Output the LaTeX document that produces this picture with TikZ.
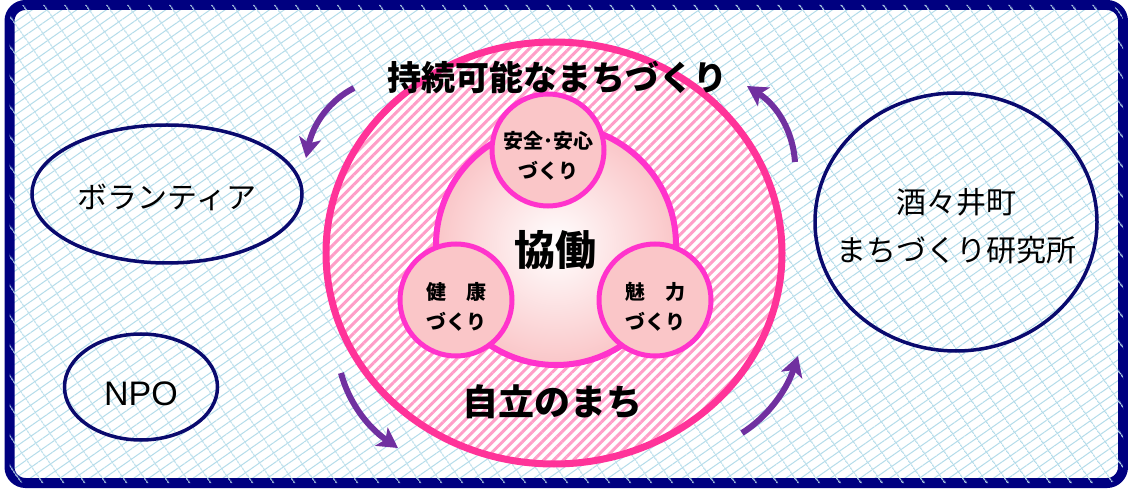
\documentclass[tikz,border=0pt]{standalone}
\usepackage{fontspec}
\setmainfont{Noto Sans CJK JP}
\newfontfamily\latinfont{Liberation Sans}
\usetikzlibrary{patterns.meta,arrows.meta,shapes.geometric}
\definecolor{navy}{RGB}{0,0,128}
\definecolor{ovalblue}{RGB}{10,10,110}
\definecolor{bgblue}{RGB}{180,220,234}
\definecolor{hotpink}{RGB}{255,51,153}
\definecolor{stripepink}{RGB}{255,158,200}
\definecolor{magentaline}{RGB}{255,51,204}
\definecolor{softpink}{RGB}{250,198,200}
\definecolor{purp}{RGB}{112,48,160}
\tikzset{
  frame/.style={draw=navy, line width=10, rounded corners=16,
    preaction={fill=white},
    pattern={Lines[angle=35,distance=8.5pt,line width=1pt]}, pattern color=bgblue,
    postaction={pattern={Lines[angle=125,distance=17pt,line width=1pt]}, pattern color=bgblue}},
  oval/.style={ellipse, draw=ovalblue, line width=3.5, inner sep=0},
  bigring/.style={ellipse, draw=hotpink, line width=7, inner sep=0,
    preaction={fill=white},
    pattern={Lines[angle=45,distance=7pt,line width=3pt]}, pattern color=stripepink},
  core/.style={circle, draw=magentaline, line width=6, inner sep=0,
    inner color=white, outer color=softpink},
  petal/.style={circle, draw=magentaline, line width=5, fill=softpink, inner sep=0,
    minimum size=112},
  petaltext/.style={align=center, font=\fontsize{20}{30}\selectfont\bfseries},
  arr/.style={draw=purp, line width=6, -{Stealth[length=20pt,width=22pt,inset=5pt]}},
  title/.style={font=\fontsize{34}{40}\selectfont\bfseries},
}
\begin{document}
\begin{tikzpicture}[x=1pt,y=-1pt]
\useasboundingbox (0,0) rectangle (1128,489);
\draw[frame] (9.5,5) rectangle (1123,483);

% outer big ring
\node[bigring, minimum width=456, minimum height=422] (ring) at (554,253) {};
% core
\node[core, minimum size=240] (core) at (556,245) {};
% petals
\node[petal] (safe) at (548,150) {};
\node[petal] (health) at (456,300) {};
\node[petal] (charm) at (655,300) {};
\node[petaltext] (safet) at ([yshift=-6]safe.center) {安全･安心\\づくり};
\node[petaltext] (healtht) at ([yshift=-7]health.center) {健\hspace{1em}康\\づくり};
\node[petaltext] (charmt) at ([yshift=-7]charm.center) {魅\hspace{1em}力\\づくり};

% texts in ring
\node[title] (sus) at (557,77) {持続可能なまちづくり};
\node[font=\fontsize{41}{46}\selectfont\bfseries] (kyodo) at (555,250) {協働};
\node[font=\fontsize{36}{40}\selectfont\bfseries] (jiritsu) at (552,402) {自立のまち};

% outer actors
\node[oval, minimum width=270, minimum height=138] (vol) at (167,194) {};
\node[font=\fontsize{30}{34}\selectfont] (volt) at ([yshift=-3]vol.center) {ボランティア};
\node[oval, minimum width=153, minimum height=106] (npo) at (141,387) {};
\node[font=\latinfont\fontsize{34}{38}\selectfont] (npot) at ([yshift=-7]npo.center) {NPO};
\node[oval, minimum width=282, minimum height=258] (lab) at (956,222) {};
\node[align=center, font=\fontsize{30}{48}\selectfont] (labt) at ([yshift=-4]lab.center) {酒々井町\\まちづくり研究所};

% arrows
\coordinate (tls) at (354,88);
\coordinate (tle) at (306,158);
\coordinate (trs) at (795,162);
\coordinate (tre) at (747,86);
\coordinate (bls) at (341,373);
\coordinate (ble) at (398,448);
\coordinate (brs) at (742,433);
\coordinate (bre) at (798,356);
\draw[arr] (tls) .. controls (330,100) and (313,124) .. (tle);
\draw[arr] (trs) .. controls (793,132) and (778,106) .. (tre);
\draw[arr] (bls) .. controls (348,400) and (366,426) .. (ble);
\draw[arr] (brs) .. controls (766,418) and (786,392) .. (bre);
\end{tikzpicture}
\end{document}
